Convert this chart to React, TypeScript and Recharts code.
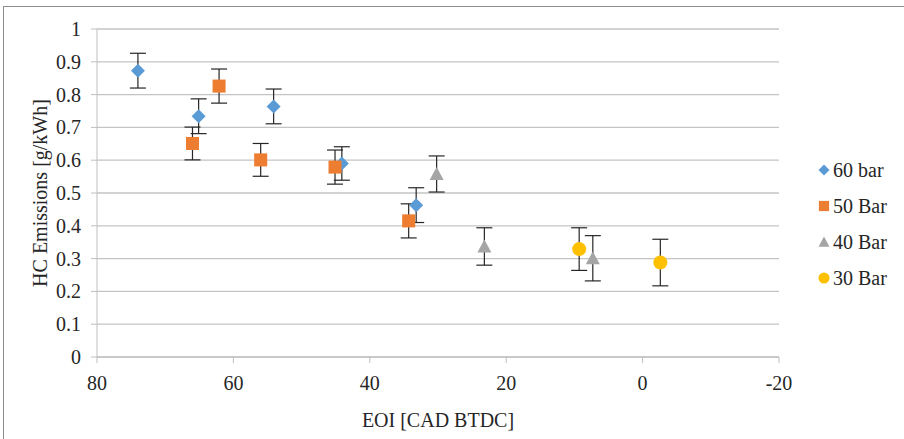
import React from 'react';
import {
  CartesianGrid,
  ErrorBar,
  Scatter,
  ScatterChart,
  XAxis,
  YAxis,
} from 'recharts';

// End of injection [CAD BTDC] vs HC emissions [g/kWh], with +/- error per point
const eoi60 = [74.0, 65.1, 54.1, 44.1, 33.2];
const hc60 = [0.873, 0.734, 0.764, 0.59, 0.463];
const err60 = [0.053, 0.053, 0.053, 0.051, 0.053];

const eoi50 = [66.0, 62.1, 56.0, 45.1, 34.3];
const hc50 = [0.651, 0.826, 0.601, 0.579, 0.415];
const err50 = [0.05, 0.052, 0.05, 0.052, 0.052];

const eoi40 = [30.2, 23.2, 7.3];
const hc40 = [0.558, 0.337, 0.301];
const err40 = [0.055, 0.057, 0.069];

const eoi30 = [9.3, -2.6];
const hc30 = [0.329, 0.288];
const err30 = [0.065, 0.071];

const xTicks = [80, 60, 40, 20, 0, -20];
const yTicks = [0, 0.1, 0.2, 0.3, 0.4, 0.5, 0.6, 0.7, 0.8, 0.9, 1];

type Marker = 'diamond' | 'square' | 'triangle' | 'circle';

const toPoints = (xs: number[], ys: number[], errs: number[]) =>
  xs.map((x, i) => ({ x, y: ys[i], err: errs[i] }));

const series = [
  { name: '60 bar', color: '#5b9bd5', marker: 'diamond' as Marker, data: toPoints(eoi60, hc60, err60) },
  { name: '50 Bar', color: '#ed7d31', marker: 'square' as Marker, data: toPoints(eoi50, hc50, err50) },
  { name: '40 Bar', color: '#a5a5a5', marker: 'triangle' as Marker, data: toPoints(eoi40, hc40, err40) },
  { name: '30 Bar', color: '#ffc000', marker: 'circle' as Marker, data: toPoints(eoi30, hc30, err30) },
];

const FONT = "'Liberation Serif', Tinos, 'Times New Roman', serif";
const TEXT = '#262626';
const FONT_SIZE = 20;

// r is the half-size of the glyph; 7 in the plot, 5.5 in the legend
function MarkerGlyph({ kind, cx, cy, color, r = 7 }: { kind: Marker; cx: number; cy: number; color: string; r?: number }) {
  switch (kind) {
    case 'diamond':
      return <path d={`M${cx},${cy - r}L${cx + r},${cy}L${cx},${cy + r}L${cx - r},${cy}Z`} fill={color} />;
    case 'square':
      return <rect x={cx - r * 0.93} y={cy - r * 0.93} width={r * 1.86} height={r * 1.86} fill={color} />;
    case 'triangle':
      return <path d={`M${cx},${cy - r}L${cx + r},${cy + r * 0.86}L${cx - r},${cy + r * 0.86}Z`} fill={color} />;
    default:
      return <circle cx={cx} cy={cy} r={r} fill={color} />;
  }
}

// tick labels drawn directly so the font size is not overridden
function XTick({ x, y, payload }: any) {
  return (
    <text x={x} y={y} dy={14} textAnchor="middle" fill={TEXT} fontSize={FONT_SIZE} fontFamily={FONT}>
      {payload.value}
    </text>
  );
}

function YTick({ x, y, payload }: any) {
  return (
    <text x={x} y={y} dy={7} textAnchor="end" fill={TEXT} fontSize={FONT_SIZE} fontFamily={FONT}>
      {payload.value}
    </text>
  );
}

function Legend() {
  return (
    <div style={{ position: 'absolute', left: 817, top: 152, fontFamily: FONT, fontSize: FONT_SIZE, color: TEXT }}>
      {series.map((s) => (
        <div key={s.name} style={{ display: 'flex', alignItems: 'center', height: 36 }}>
          <svg width={14} height={14} style={{ marginRight: 2 }}>
            <MarkerGlyph kind={s.marker} cx={7} cy={7} color={s.color} r={5.5} />
          </svg>
          <span style={{ lineHeight: '20px' }}>{s.name}</span>
        </div>
      ))}
    </div>
  );
}

export default function App() {
  return (
    <div
      style={{
        position: 'absolute',
        left: 0,
        top: 0,
        width: 904,
        height: 439,
        background: '#fff',
        overflow: 'hidden',
        fontFamily: FONT,
      }}
    >
      <div
        style={{
          position: 'absolute',
          left: 3,
          top: 6,
          width: 920,
          height: 460,
          border: '1px solid #8c8c8c',
          boxSizing: 'border-box',
        }}
      />
      <ScatterChart
        width={904}
        height={439}
        margin={{ top: 29, right: 125, bottom: 0, left: 0 }}
        style={{ position: 'absolute', left: 0, top: 0, fontFamily: FONT }}
      >
        <CartesianGrid horizontal vertical={false} stroke="#c4c4c4" strokeWidth={1.3} />
        <XAxis
          type="number"
          dataKey="x"
          domain={[-20, 80]}
          ticks={xTicks}
          reversed
          height={82}
          tickSize={6}
          tickMargin={13}
          stroke="#bfbfbf"
          tick={<XTick />}
          label={{ value: 'EOI [CAD BTDC]', position: 'insideBottom', offset: 12, fill: TEXT, fontSize: FONT_SIZE, fontFamily: FONT }}
        />
        <YAxis
          type="number"
          dataKey="y"
          domain={[0, 1]}
          ticks={yTicks}
          width={97}
          tickSize={6}
          tickMargin={10}
          stroke="#bfbfbf"
          tick={<YTick />}
          label={{
            value: 'HC Emissions [g/kWh]',
            angle: -90,
            position: 'insideLeft',
            offset: 40,
            style: { textAnchor: 'middle', fontFamily: FONT },
            fill: TEXT,
            fontSize: FONT_SIZE,
          }}
        />
        {series.map((s) => (
          <Scatter
            key={s.name}
            name={s.name}
            data={s.data}
            isAnimationActive={false}
            shape={(p: any) => <MarkerGlyph kind={s.marker} cx={p.cx} cy={p.cy} color={s.color} />}
          >
            <ErrorBar dataKey="err" direction="y" width={8} stroke="#262626" strokeWidth={1.2} isAnimationActive={false} />
          </Scatter>
        ))}
      </ScatterChart>
      <Legend />
    </div>
  );
}
